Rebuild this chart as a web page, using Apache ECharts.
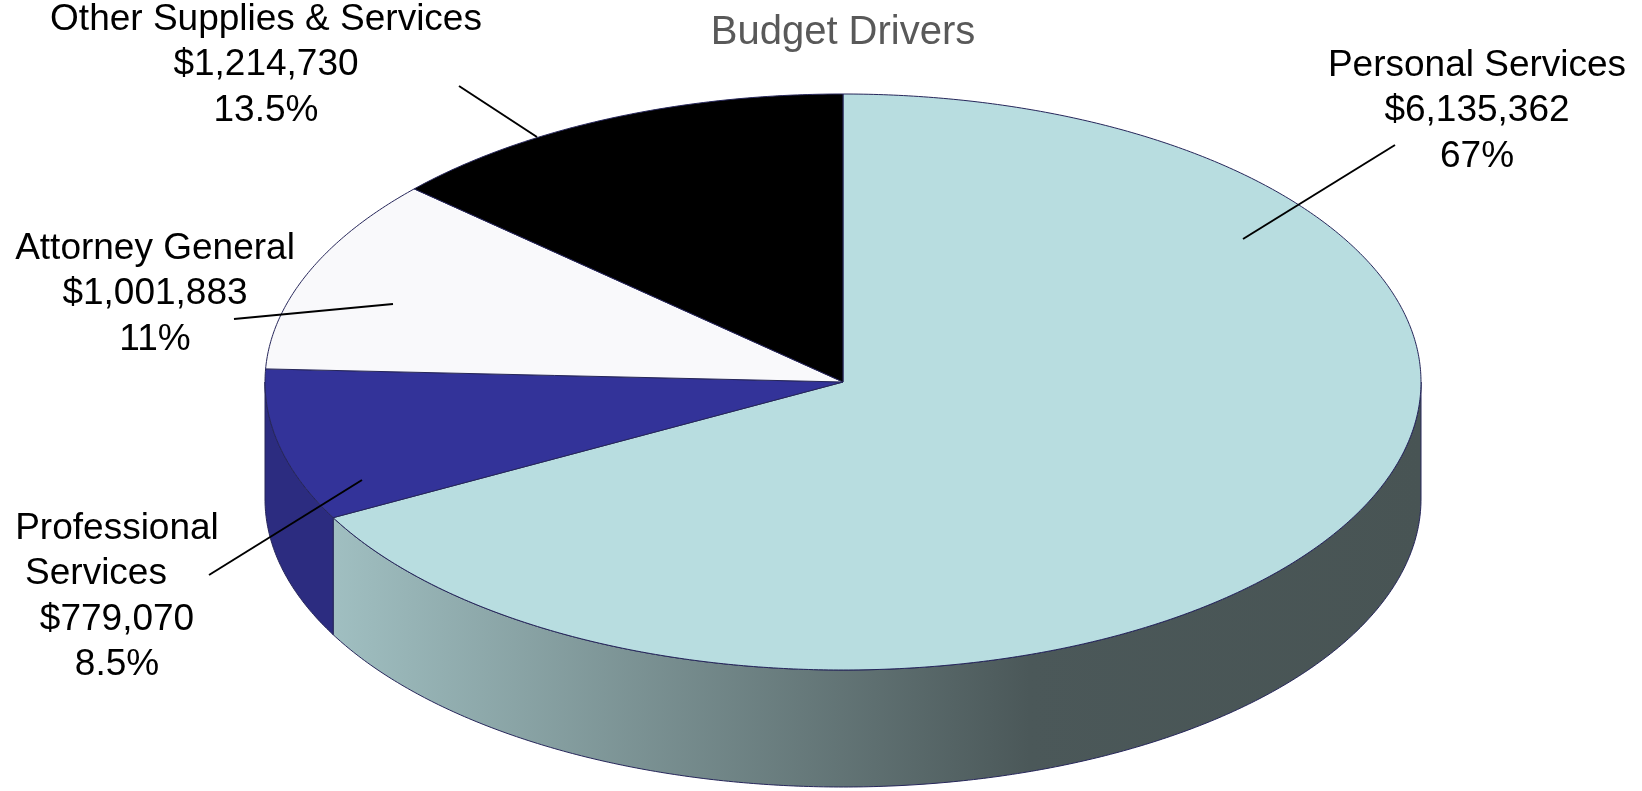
<!DOCTYPE html>
<html><head><meta charset="utf-8">
<script src="https://cdn.jsdelivr.net/npm/echarts@6/dist/echarts.min.js"></script>
<style>html,body{margin:0;padding:0;background:#fff}#chart{width:1642px;height:791px}</style>
</head><body><div id="chart"></div>
<script>
// ---- data ----
const categories = ['Personal Services', 'Professional\nServices', 'Attorney General', 'Other Supplies & Services'];
const values = [6135362, 779070, 1001883, 1214730];
const valueLabels = ['$6,135,362', '$779,070', '$1,001,883', '$1,214,730'];
const percentLabels = ['67%', '8.5%', '11%', '13.5%'];
const titleText = 'Budget Drivers';

// ---- styles / layout ----
const topColors = ['#B8DDE0', '#333399', '#F9F9FB', '#000000'];
const sideColors = [
  new echarts.graphic.LinearGradient(0, 0, 1, 0, [
    {offset: 0, color: '#A0BFC1'},
    {offset: 0.64, color: '#4B5859'},
    {offset: 1, color: '#485454'}
  ]),
  '#2C2C80', '#DADADF', '#000000'
];
const edgeColor = '#26265A';
const pie = {cx: 843, cy: 382, rx: 578, ry: 288, depth: 117};
const labelFont = {size: 37, lineHeight: 45.5, family: '"Liberation Sans", Arial, sans-serif'};
const titleLayout = {x: 843, y: 33, size: 40, color: '#595959'};
const labelLayout = [
  {x: 1477, y: 111, from: [1243, 239], to: [1395, 145], shift: []},
  {x: 117, y: 597, from: [362, 480], to: [209, 575], shift: [0, -21, 0, 0]},
  {x: 155, y: 294, from: [393, 304], to: [234, 319], shift: []},
  {x: 266, y: 65, from: [537, 137], to: [459, 86], shift: []}
];

const total = values.reduce((a, b) => a + b, 0);

function pt(t, dy) {
  return [pie.cx + pie.rx * Math.sin(t), pie.cy - pie.ry * Math.cos(t) + (dy || 0)];
}
function arc(t0, t1, dy) {
  const n = Math.max(2, Math.ceil((t1 - t0) / (Math.PI / 360)));
  const pts = [];
  for (let i = 0; i <= n; i++) pts.push(pt(t0 + (t1 - t0) * i / n, dy));
  return pts;
}

function renderItem(params, api) {
  const i = params.dataIndex;
  let before = 0;
  for (let k = 0; k < i; k++) before += values[k];
  const v = api.value(0);
  const t0 = before / total * Math.PI * 2;
  const t1 = (before + v) / total * Math.PI * 2;
  const children = [];
  // side (front-facing part only)
  const a = Math.max(t0, Math.PI / 2), b = Math.min(t1, Math.PI * 1.5);
  if (b > a) {
    const topArc = arc(a, b, 0);
    const botArc = arc(a, b, pie.depth).reverse();
    children.push({
      type: 'polygon', z2: 1,
      shape: {points: topArc.concat(botArc)},
      style: {fill: sideColors[i], stroke: edgeColor, lineWidth: 1}
    });
  }
  // top face
  children.push({
    type: 'polygon', z2: 10,
    shape: {points: [[pie.cx, pie.cy]].concat(arc(t0, t1, 0))},
    style: {fill: topColors[i], stroke: edgeColor, lineWidth: 1}
  });
  // leader line + label
  const L = labelLayout[i];
  children.push({
    type: 'line', z2: 20,
    shape: {x1: L.from[0], y1: L.from[1], x2: L.to[0], y2: L.to[1]},
    style: {stroke: '#000', lineWidth: 2}
  });
  const lines = categories[i].split('\n').concat([valueLabels[i], percentLabels[i]]);
  lines.forEach((txt, j) => {
    children.push({
      type: 'text', z2: 20,
      x: L.x + (L.shift[j] || 0),
      y: L.y + (j - (lines.length - 1) / 2) * labelFont.lineHeight,
      style: {
        text: txt, fill: '#000', fontSize: labelFont.size, fontFamily: labelFont.family,
        align: 'center', verticalAlign: 'middle'
      }
    });
  });
  return {type: 'group', children: children};
}

const chart = echarts.init(document.getElementById('chart'), null, {renderer: 'canvas'});
chart.setOption({
  animation: false,
  backgroundColor: '#ffffff',
  graphic: [{
    type: 'text', x: titleLayout.x, y: titleLayout.y, z: 10,
    style: {
      text: titleText, fill: titleLayout.color, fontSize: titleLayout.size,
      fontFamily: labelFont.family, align: 'center', verticalAlign: 'middle'
    }
  }],
  series: [{
    type: 'custom',
    coordinateSystem: 'none',
    renderItem: renderItem,
    data: values.map((v, i) => ({name: categories[i], value: [v]}))
  }]
});
</script>
</body></html>
